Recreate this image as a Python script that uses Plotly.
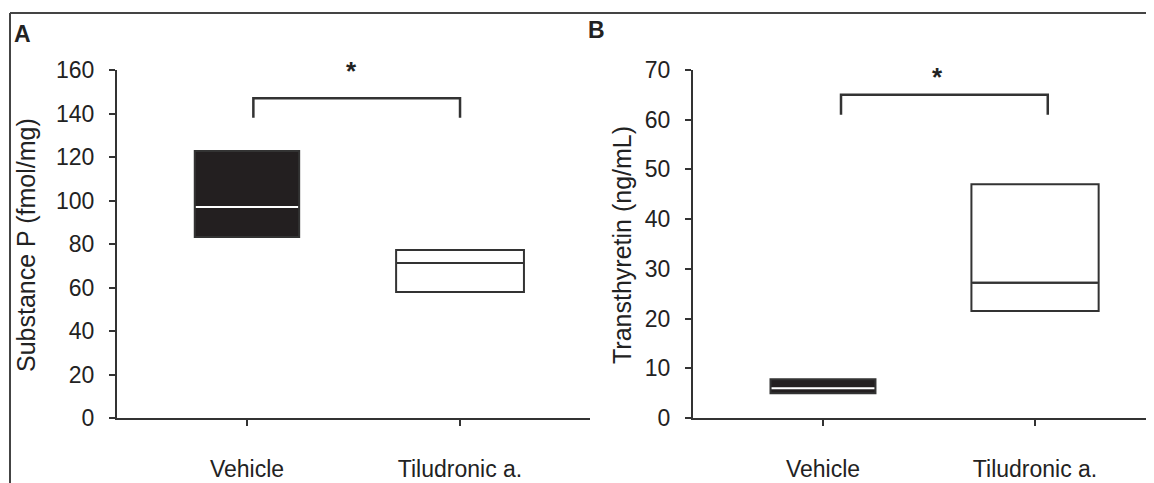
import plotly.graph_objects as go

# ---------------- data ----------------
CATEGORIES = ["Vehicle", "Tiludronic a."]
CAT_POS = [0, 1]

# Panel A: Substance P (fmol/mg)
A_Q1 = [83.2, 57.9]
A_MEDIAN = [97.0, 71.3]
A_Q3 = [122.8, 77.2]
A_BOX_WIDTH = [0.49, 0.60]
A_YTICKS = [0, 20, 40, 60, 80, 100, 120, 140, 160]
A_TITLE = "Substance P (fmol/mg)"
A_SIG_X = [0.03, 1.0]
A_SIG_Y = [138.0, 147.0]
A_STAR = (0.49, 159.5)

# Panel B: Transthyretin (ng/mL)
B_Q1 = [5.0, 21.5]
B_MEDIAN = [6.0, 27.2]
B_Q3 = [7.8, 47.0]
B_BOX_WIDTH = [0.495, 0.60]
B_YTICKS = [0, 10, 20, 30, 40, 50, 60, 70]
B_TITLE = "Transthyretin (ng/mL)"
B_SIG_X = [0.085, 1.06]
B_SIG_Y = [61.0, 65.0]
B_STAR = (0.54, 68.6)

FILLS = ["#231f20", "white"]
MEDIAN_COLORS = ["white", "#333333"]
LINE_COLOR = "#333333"
TEXT_COLOR = "#222222"
FONT = "Liberation Sans, Arial, sans-serif"

# page body has an 8px margin; figure is sized to fit exactly inside the window
W, H = 1146, 475
OFF = 8


def px_x(x):
    return (x - OFF) / W


def px_y(y):
    return 1 - (y - OFF) / H


fig = go.Figure()


def add_panel(xa, ya, q1s, meds, q3s, widths, sig_x, sig_y, star):
    for i in range(len(CATEGORIES)):
        fig.add_trace(go.Box(
            x=[CAT_POS[i]], q1=[q1s[i]], median=[meds[i]], q3=[q3s[i]],
            lowerfence=[q1s[i]], upperfence=[q3s[i]],
            width=widths[i], whiskerwidth=0,
            fillcolor=FILLS[i], line=dict(color=LINE_COLOR, width=2),
            xaxis=xa, yaxis=ya, showlegend=False, boxpoints=False,
        ))
        fig.add_trace(go.Scatter(
            x=[CAT_POS[i] - widths[i] / 2 + 0.005, CAT_POS[i] + widths[i] / 2 - 0.005],
            y=[meds[i], meds[i]], mode="lines",
            line=dict(color=MEDIAN_COLORS[i], width=2),
            xaxis=xa, yaxis=ya, showlegend=False, hoverinfo="skip",
        ))
    fig.add_trace(go.Scatter(
        x=[sig_x[0], sig_x[0], sig_x[1], sig_x[1]],
        y=[sig_y[0], sig_y[1], sig_y[1], sig_y[0]],
        mode="lines", line=dict(color=LINE_COLOR, width=2.5),
        xaxis=xa, yaxis=ya, showlegend=False, hoverinfo="skip", cliponaxis=False,
    ))
    fig.add_annotation(x=star[0], y=star[1], xref=xa, yref=ya, text="<b>*</b>",
                       showarrow=False, font=dict(size=26, color=TEXT_COLOR, family=FONT))


add_panel("x", "y", A_Q1, A_MEDIAN, A_Q3, A_BOX_WIDTH, A_SIG_X, A_SIG_Y, A_STAR)
add_panel("x2", "y2", B_Q1, B_MEDIAN, B_Q3, B_BOX_WIDTH, B_SIG_X, B_SIG_Y, B_STAR)

ydom = [px_y(418), px_y(70)]
axis_common = dict(showline=True, linecolor=LINE_COLOR, linewidth=2, showgrid=False,
                   zeroline=False, ticks="outside", ticklen=6, tickwidth=1.5,
                   tickcolor=LINE_COLOR, automargin=False,
                   tickfont=dict(size=23, color=TEXT_COLOR, family=FONT))

fig.update_layout(
    width=W, height=H, margin=dict(l=0, r=0, t=0, b=0, autoexpand=False),
    paper_bgcolor="white", plot_bgcolor="white", boxmode="overlay",
    xaxis=dict(domain=[px_x(117), px_x(590)], range=[-0.610, 1.610],
               tickvals=CAT_POS, ticktext=CATEGORIES, ticklabelstandoff=23,
               anchor="y", **axis_common),
    yaxis=dict(domain=ydom, range=[0, 160], tickvals=A_YTICKS,
               ticklabelstandoff=10, anchor="x", **axis_common),
    xaxis2=dict(domain=[px_x(693), 1.0], range=[-0.613, 1.561],
                tickvals=CAT_POS, ticktext=CATEGORIES, ticklabelstandoff=23,
                anchor="y2", **axis_common),
    yaxis2=dict(domain=ydom, range=[0, 70], tickvals=B_YTICKS,
                ticklabelstandoff=10, anchor="x2", **axis_common),
)

# axis titles
for txt, xc in ((A_TITLE, 26), (B_TITLE, 622)):
    fig.add_annotation(x=px_x(xc), y=px_y(245), xref="paper", yref="paper", text=txt,
                       textangle=-90, showarrow=False, xanchor="center", yanchor="middle",
                       font=dict(size=25, color=TEXT_COLOR, family=FONT))

# figure frame lines and panel letters
fig.add_shape(type="line", xref="paper", yref="paper",
              x0=px_x(10), x1=1, y0=px_y(13), y1=px_y(13),
              line=dict(color="#444", width=2))
fig.add_shape(type="line", xref="paper", yref="paper",
              x0=px_x(10), x1=px_x(10), y0=0, y1=px_y(13),
              line=dict(color="#444", width=2))
fig.add_annotation(x=px_x(12), y=px_y(19), xref="paper", yref="paper", text="<b>A</b>",
                   showarrow=False, xanchor="left", yanchor="top",
                   font=dict(size=23, color=TEXT_COLOR, family=FONT))
fig.add_annotation(x=px_x(586), y=px_y(15), xref="paper", yref="paper", text="<b>B</b>",
                   showarrow=False, xanchor="left", yanchor="top",
                   font=dict(size=23, color=TEXT_COLOR, family=FONT))

fig.write_html("out.html")
